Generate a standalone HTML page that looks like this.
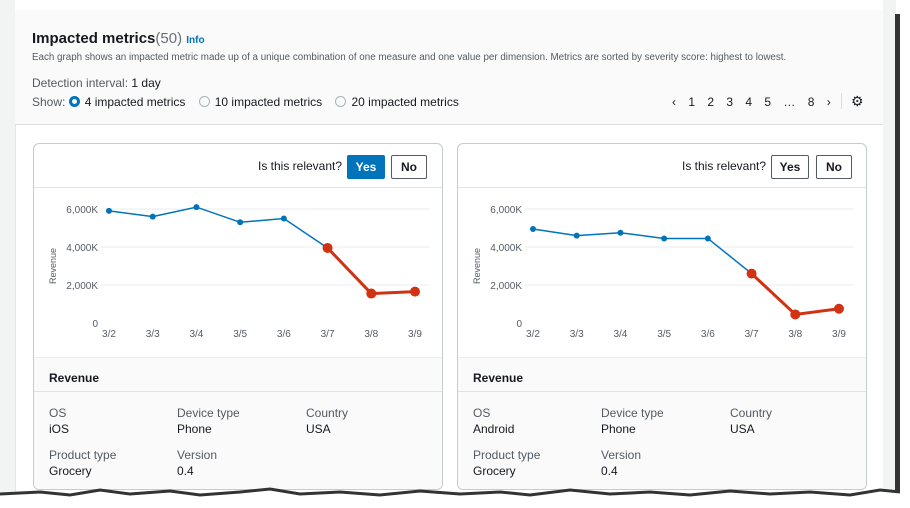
<!DOCTYPE html>
<html><head><meta charset="utf-8">
<style>
body{margin:0;width:910px;height:508px;background:#fff;font-family:"Liberation Sans",sans-serif;position:relative;overflow:hidden;color:#16191f}
.abs{position:absolute}
#left{left:0;top:0;width:15px;height:508px;background:#f2f3f3}
#panel{left:15px;top:10px;width:868px;height:485px;background:#fff;border-left:1px solid #e5e5e5}
#hdr{left:15px;top:10px;width:868px;height:114px;background:#fafafa;border-bottom:1px solid #dcdcdc}
#rstrip{left:883px;top:0;width:13px;height:508px;background:#f2f3f3}
#rshadow{left:895px;top:14px;width:5px;height:480px;background:#333}
.card{width:408px;height:345px;top:143px;border:1px solid #c6cbcd;border-radius:6px;background:#fff;overflow:hidden}
.btn{position:absolute;top:11px;height:22px;border:1px solid #545b64;border-radius:2px;font-size:12px;font-weight:bold;line-height:22px;text-align:center;background:#fff}
.det{position:absolute;left:0;top:213px;width:408px;height:132px;background:#fafafa;border-top:1px solid #eee}
.lbl{position:absolute;font-size:12px;color:#545b64}
.val{position:absolute;font-size:12px;color:#16191f}
.radio{display:inline-block;width:9px;height:9px;border:1px solid #aab7b8;border-radius:50%;vertical-align:-1px;margin-right:5px}
.radio.on{border:3px solid #0073bb;width:5px;height:5px}
</style></head><body>
<div class="abs" id="left"></div>
<div class="abs" id="panel"></div>
<div class="abs" id="hdr"></div>
<div class="abs" id="rstrip"></div>
<div class="abs" id="rshadow"></div>

<div class="abs" style="left:32px;top:30px;font-size:15px;font-weight:bold">Impacted metrics<span style="font-weight:normal;color:#687078">(50)</span> <span style="font-size:10px;color:#0073bb">Info</span></div>
<div class="abs" style="left:32px;top:52px;font-size:9.8px;color:#545b64;white-space:nowrap">Each graph shows an impacted metric made up of a unique combination of one measure and one value per dimension. Metrics are sorted by severity score: highest to lowest.</div>
<div class="abs" style="left:32px;top:76px;font-size:12px"><span style="color:#545b64">Detection interval:</span> 1 day</div>
<div class="abs" style="left:32px;top:95px;font-size:12px"><span style="color:#545b64">Show:</span> <span><span class="radio on"></span>4 impacted metrics</span>&nbsp;&nbsp;&nbsp;&nbsp;<span><span class="radio"></span>10 impacted metrics</span>&nbsp;&nbsp;&nbsp;&nbsp;<span><span class="radio"></span>20 impacted metrics</span></div>
<div class="abs" style="left:672px;top:95px;font-size:12px;word-spacing:9px">‹ 1 2 3 4 5 … 8 ›</div>
<div class="abs" style="left:841px;top:93px;width:1px;height:16px;background:#ddd"></div>
<div class="abs" style="left:851px;top:93px;font-size:14px">⚙</div>

<div class="abs card" style="left:33px" id="c1"></div>
<div class="abs card" style="left:457px" id="c2"></div>

<svg class="abs" style="left:0;top:486px" width="910" height="22">
<path d="M0,8 L40,6 L70,9 L100,4 L130,8 L170,5 L200,9 L240,6 L270,3 L300,8 L340,6 L380,9 L420,5 L460,8 L500,6 L530,9 L570,4 L610,8 L650,6 L690,9 L730,5 L770,8 L810,6 L850,9 L880,4 L900,6 L910,6 L910,22 L0,22 Z" fill="#fff"/>
<path d="M0,8 L40,6 L70,9 L100,4 L130,8 L170,5 L200,9 L240,6 L270,3 L300,8 L340,6 L380,9 L420,5 L460,8 L500,6 L530,9 L570,4 L610,8 L650,6 L690,9 L730,5 L770,8 L810,6 L850,9 L880,4 L900,6" fill="none" stroke="#333" stroke-width="3"/>
</svg>

<script>
const dates=["3/2","3/3","3/4","3/5","3/6","3/7","3/8","3/9"];
const yTicks=[0,2000,4000,6000];
const yTickLabels=["0","2,000K","4,000K","6,000K"];
const iosValues=[5900,5600,6100,5300,5500,3950,1550,1650];
const androidValues=[4950,4600,4750,4450,4450,2600,450,750];
const anomalyStart=5;
const NS="http://www.w3.org/2000/svg";
function build(card,values,yesActive,os){
  const el=document.getElementById(card);
  el.innerHTML=`<div style="position:absolute;left:0;top:0;width:408px;height:43px;border-bottom:1px solid #e1e4e6"></div>
  <span class="lbl" style="left:224px;top:15px;color:#16191f">Is this relevant?</span>`;
  const yes=document.createElement('div');yes.className='btn';yes.textContent='Yes';
  yes.style.cssText=`left:313px;width:36px;`+(yesActive?'background:#0073bb;color:#fff;border-color:#0073bb':'');
  
  
  const no=document.createElement('div');no.className='btn';no.textContent='No';
  no.style.cssText=`left:${yesActive?357:358}px;width:34px;`;
  
  
  el.appendChild(yes);el.appendChild(no);
  const svg=document.createElementNS(NS,'svg');
  svg.setAttribute('width',408);svg.setAttribute('height',213);
  svg.style.cssText='position:absolute;left:0;top:0';
  
  
  el.appendChild(svg);
  const x0=75,x1=381,yb=179,yt=65,ymax=6000;
  const X=i=>x0+(x1-x0)*i/(dates.length-1);
  const Y=v=>yb-(yb-yt)*v/ymax;
  let h='';
  yTicks.forEach((t,i)=>{
    if(t>0)h+=`<line x1="67" x2="395" y1="${Y(t)}" y2="${Y(t)}" stroke="#e9ebed"/>`;
    h+=`<text x="64" y="${Y(t)+4}" text-anchor="end" font-size="10" fill="#545b64">${yTickLabels[i]}</text>`;
  });
  dates.forEach((d,i)=>h+=`<text x="${X(i)}" y="193" text-anchor="middle" font-size="10" fill="#545b64">${d}</text>`);
  h+=`<text transform="translate(22,122) rotate(-90)" text-anchor="middle" font-size="9" fill="#545b64">Revenue</text>`;
  svg.innerHTML=h;
  function add(tag,attrs,name){const e=document.createElementNS(NS,tag);for(const k in attrs)e.setAttribute(k,attrs[k]);
    
    
    svg.appendChild(e);}
  const bp=values.slice(0,anomalyStart+1).map((v,i)=>X(i)+','+Y(v)).join(' ');
  add('polyline',{points:bp,fill:'none',stroke:'#0073bb','stroke-width':1.5},'normal-series-line');
  const rp=values.slice(anomalyStart).map((v,i)=>X(i+anomalyStart)+','+Y(v)).join(' ');
  add('polyline',{points:rp,fill:'none',stroke:'#d13212','stroke-width':3},'anomaly-series-line');
  values.forEach((v,i)=>{
    if(i<anomalyStart)add('circle',{cx:X(i),cy:Y(v),r:3,fill:'#0073bb'},'normal-point');
    else add('circle',{cx:X(i),cy:Y(v),r:5,fill:'#d13212'},'anomaly-point');
  });
  const det=document.createElement('div');det.className='det';
  
  
  det.innerHTML=`<div style="position:absolute;left:15px;top:13px;font-size:12px;font-weight:bold">Revenue</div>
  <div style="position:absolute;left:0;top:33px;width:408px;height:1px;background:#e1e4e6"></div>
  <span class="lbl" style="left:15px;top:48px">OS</span><span class="val" style="left:15px;top:64px">${os}</span>
  <span class="lbl" style="left:143px;top:48px">Device type</span><span class="val" style="left:143px;top:64px">Phone</span>
  <span class="lbl" style="left:272px;top:48px">Country</span><span class="val" style="left:272px;top:64px">USA</span>
  <span class="lbl" style="left:15px;top:90px">Product type</span><span class="val" style="left:15px;top:106px">Grocery</span>
  <span class="lbl" style="left:143px;top:90px">Version</span><span class="val" style="left:143px;top:106px">0.4</span>`;
  el.appendChild(det);
}
build('c1',iosValues,true,'iOS');
build('c2',androidValues,false,'Android');
</script>
</body></html>
